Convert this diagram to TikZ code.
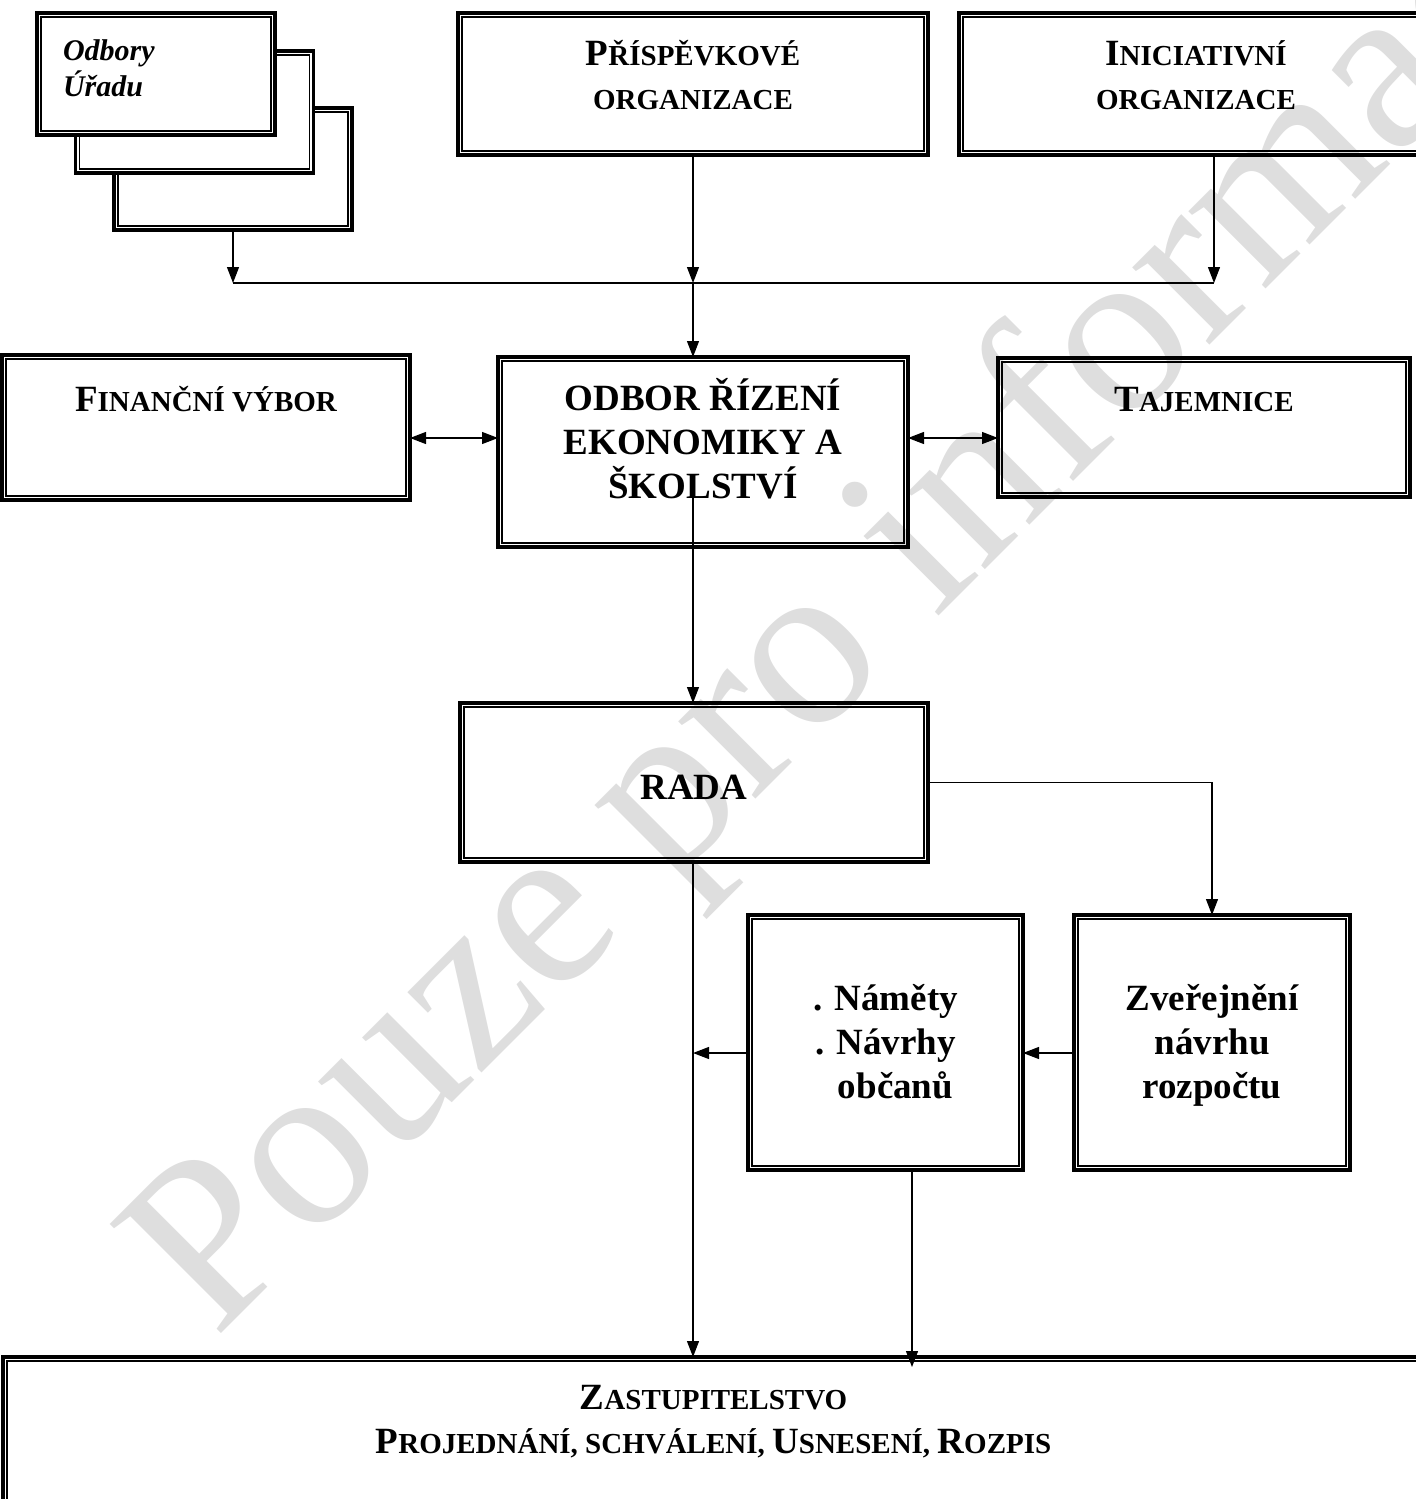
\documentclass[tikz,border=0pt]{standalone}
\usepackage{fontspec}
\setmainfont{Liberation Serif}
\usetikzlibrary{arrows.meta}
\newcommand{\smc}[1]{{\fontsize{14.5pt}{22pt}\selectfont #1}}

\begin{document}
\begin{tikzpicture}[x=0.5pt,y=-0.5pt,>={Triangle[length=8pt,width=6pt]},line width=0.6pt,
	inner frame/.style={-,draw,line width=0.6pt,
		to path={([shift={(2pt,2pt)}]\tikztostart) rectangle ([shift={(-2pt,-2pt)}]\tikztotarget)}},
	box node/.style={draw,line width=1.6pt,outer sep=0pt,inner sep=0pt,align=center,
		font=\fontsize{18.5pt}{22pt}\selectfont\bfseries,
		append after command={(\tikzlastnode.south west) edge[inner frame] (\tikzlastnode.north east)}},
	stack node/.style={box node,fill=white,minimum width=119pt,minimum height=61pt},
	watermark/.style={text=black!13,font=\fontsize{119pt}{119pt}\selectfont,rotate=45,anchor=base west,inner sep=0pt}]

	\useasboundingbox (0,0) rectangle (1416,1499);

	\node[watermark] (wm) at (215,1340) {Pouze pro informaci};

	\node[stack node] (odb3) at (233,169) {};
	\node[stack node] (odb2) at (194.5,112) {};
	\node[stack node,text width=93pt,align=left,inner xsep=13pt,text height=15pt,text depth=29pt,
		font=\fontsize{15pt}{18pt}\selectfont\bfseries\itshape] (odb1) at (156,74) {Odbory\\Úřadu};

	\node[box node,minimum width=235pt,minimum height=71pt,text height=40pt,text depth=15pt] (prisp) at (693,84)
		{P\smc{ŘÍSPĚVKOVÉ}\\\smc{ORGANIZACE}};
	\node[box node,minimum width=237pt,minimum height=71pt,text height=40pt,text depth=15pt] (inic) at (1196,84)
		{I\smc{NICIATIVNÍ}\\\smc{ORGANIZACE}};

	\node[box node,minimum width=204pt,minimum height=72.5pt,text height=15pt,text depth=31.5pt] (financ) at (206,427.5)
		{F\smc{INANČNÍ VÝBOR}};
	\node[box node,minimum width=205pt,minimum height=95pt,text height=60pt,text depth=14pt] (odbor) at (703,452)
		{ODBOR ŘÍZENÍ\\EKONOMIKY A\\ŠKOLSTVÍ};
	\node[box node,minimum width=206pt,minimum height=69.5pt,text height=15pt,text depth=31.5pt] (tajem) at (1204,427.5)
		{T\smc{AJEMNICE}};

	\node[box node,minimum width=234pt,minimum height=79.5pt,text height=20pt,text depth=3.5pt] (rada) at (694,782.5)
		{RADA};

	\node[box node,minimum width=137.5pt,minimum height=127.5pt,text height=70pt,text depth=14pt] (namety) at (885.5,1042.5)
		{. Náměty\\. Návrhy\\\hspace{10pt}občanů};
	\node[box node,minimum width=138pt,minimum height=127.5pt,text height=70pt,text depth=14pt] (zver) at (1212,1042.5)
		{Zveřejnění\\návrhu\\rozpočtu};

	\node[box node,minimum width=710.5pt,minimum height=121.5pt,text height=15pt,text depth=40.5pt] (zast) at (713.5,1478.5)
		{Z\smc{ASTUPITELSTVO}\\P\smc{ROJEDNÁNÍ, SCHVÁLENÍ, }U\smc{SNESENÍ, }R\smc{OZPIS}};

	\coordinate (jl) at (233,283);
	\coordinate (jm) at (693,283);
	\coordinate (jr) at (1214,283);
	\coordinate (row1) at (0,438);
	\coordinate (row2) at (0,1053);
	\coordinate (odborin) at (693,492);
	\coordinate (drop) at (912,1170);

	\draw[->] (odb3.south) -- (jl);
	\draw[->] (prisp.south) -- (jm);
	\draw[->] (inic.south -| jr) -- (jr);
	\draw (jl) -- (jr);
	\draw[->] (jm) -- (jm |- odbor.north);
	\draw[<->] (financ.east |- row1) -- (odbor.west |- row1);
	\draw[<->] (odbor.east |- row1) -- (tajem.west |- row1);
	\draw[->] (odborin) -- (odborin |- rada.north);
	\draw[->] (rada.east) -| (zver.north);
	\draw[->] (odborin |- rada.south) -- (odborin |- zast.north);
	\draw[->] (zver.west |- row2) -- (namety.east |- row2);
	\draw[->] (namety.west |- row2) -- (odborin |- row2);
	\draw[->,shorten >=-5pt] (drop) -- (drop |- zast.north);

\end{tikzpicture}
\end{document}
